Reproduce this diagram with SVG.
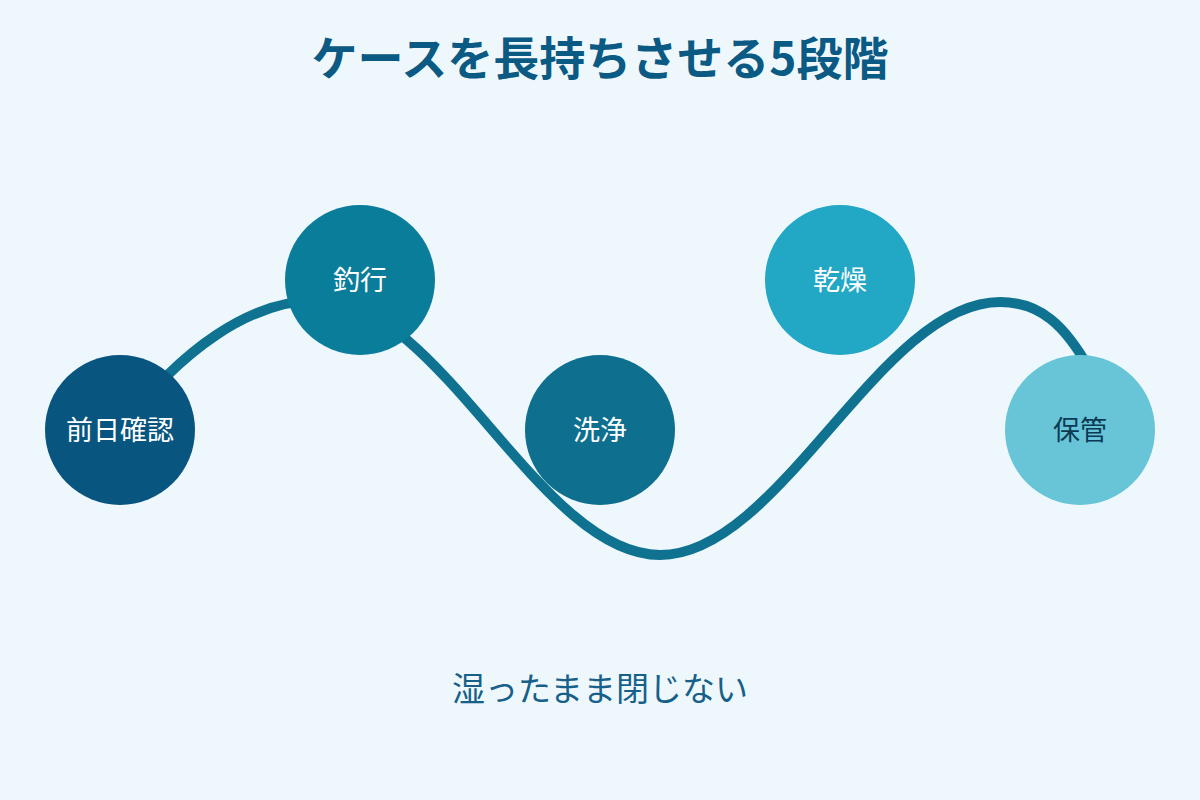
<svg xmlns="http://www.w3.org/2000/svg" width="1200" height="800" viewBox="0 0 1200 800">
<style>
.t{font-family:"Noto Sans CJK JP","Noto Sans",sans-serif;}
.title{font-size:46px;font-weight:700;fill:#0B5A84;}
.lbl{font-size:27px;fill:#FFFFFF;text-anchor:middle;}
.sub{font-size:33px;fill:#17608A;}
.wave{fill:none;stroke:#0E7290;stroke-width:10;stroke-linecap:round;}
</style>
<rect width="1200" height="800" fill="#EEF8FC"/>
<text class="t title" x="600" y="75" text-anchor="middle">ケースを長持ちさせる5段階</text>
<g id="connectors">
<path class="wave" d="M120 430 C180 350 250 300 320 300 C440 300 540 555 660 555 C780 555 880 302 1000 302 C1040 302 1065 325 1090 370 L1100 400"/>
</g>
<g id="node1"><circle cx="120" cy="430" r="75" fill="#08557F"/><text class="t lbl" x="120" y="440">前日確認</text></g>
<g id="node2"><circle cx="360" cy="280" r="75" fill="#0A7D9A"/><text class="t lbl" x="360" y="290">釣行</text></g>
<g id="node3"><circle cx="600" cy="430" r="75" fill="#0E6F8F"/><text class="t lbl" x="600" y="440">洗浄</text></g>
<g id="node4"><circle cx="840" cy="280" r="75" fill="#22A8C4"/><text class="t lbl" x="840" y="290">乾燥</text></g>
<g id="node5"><circle cx="1080" cy="430" r="75" fill="#67C5D7"/><text class="t lbl" x="1080" y="440" style="fill:#0B3A55">保管</text></g>
<text class="t sub" x="600" y="701" text-anchor="middle">湿ったまま閉じない</text>
</svg>
